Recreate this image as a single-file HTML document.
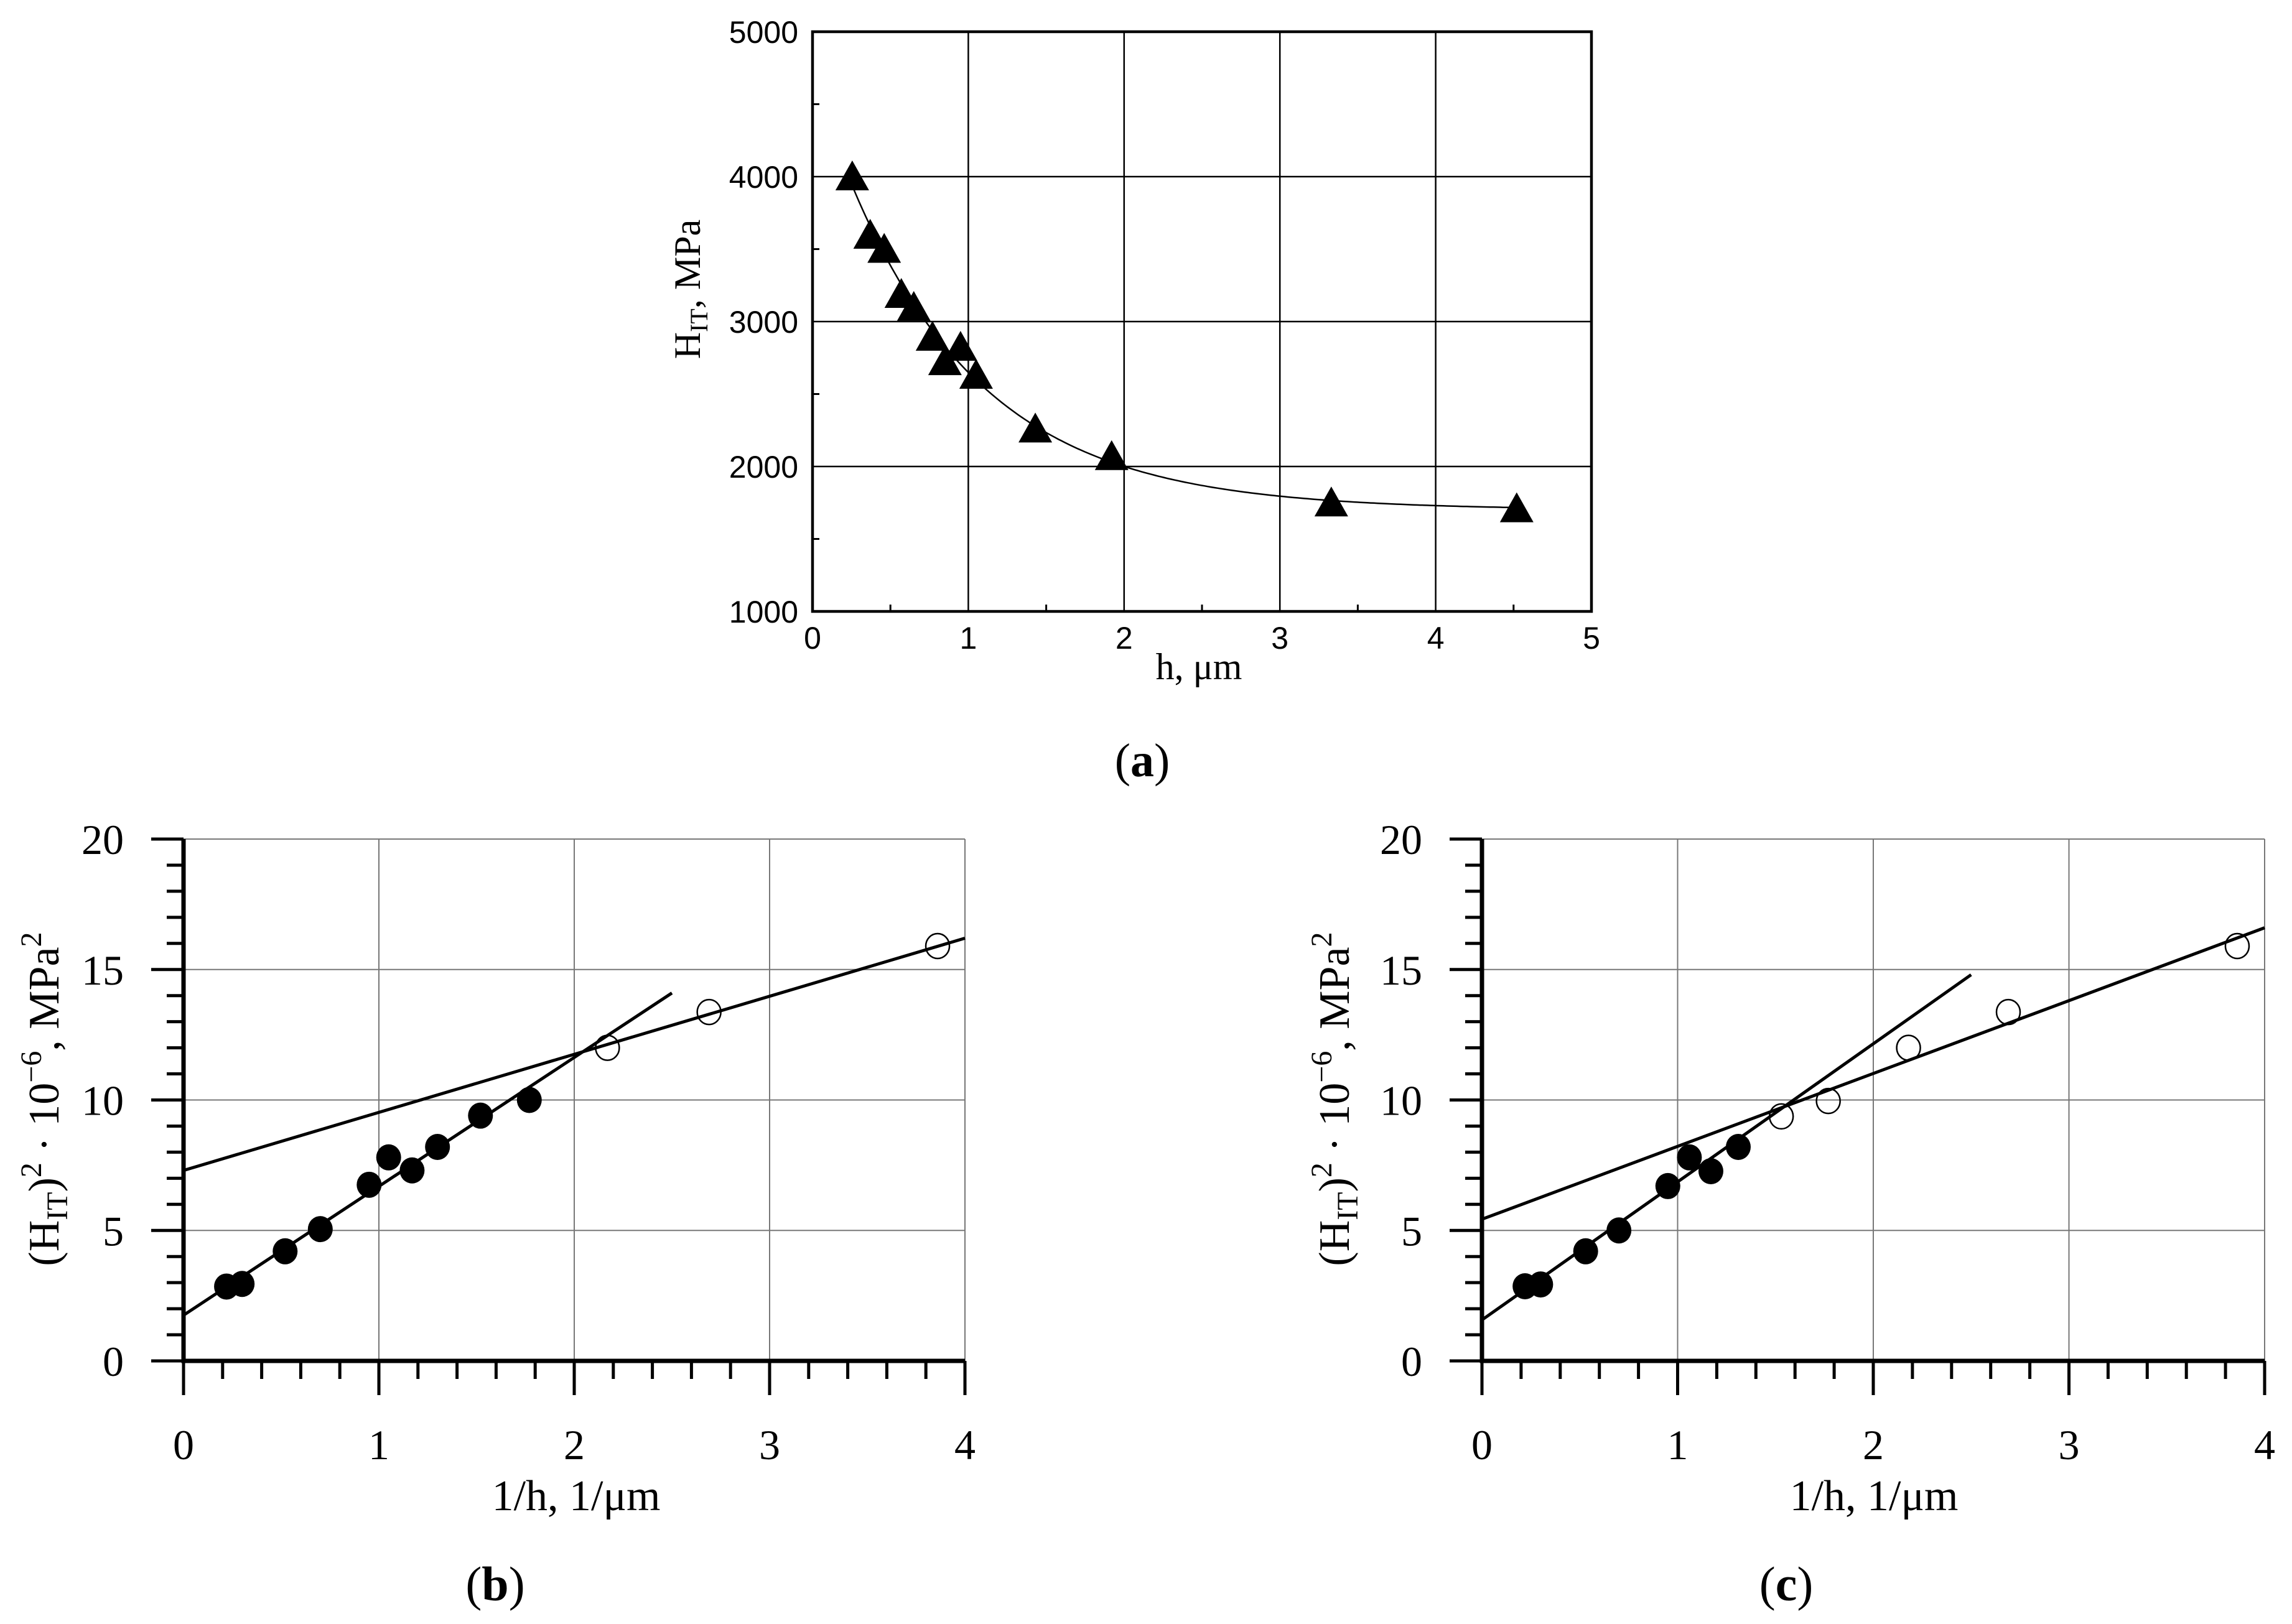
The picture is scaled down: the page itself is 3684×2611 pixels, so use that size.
<!DOCTYPE html>
<html><head><meta charset="utf-8"><style>
html,body{margin:0;padding:0;background:#fff;}
svg{display:block;}
text{fill:#000;}
.sans{font-family:"Liberation Sans",sans-serif;}
.serif{font-family:"Liberation Serif",serif;}
</style></head><body>
<svg id="fig" width="3684" height="2611" viewBox="0 0 3684 2611" xmlns="http://www.w3.org/2000/svg">
<g id="chartA"></g>
<g id="chartB"></g>
<g id="chartC"></g>
<text x="1927" y="1092" font-size="60" text-anchor="middle" style="font-family:'Liberation Serif',serif">h, μm</text>
<text class="serif" transform="translate(1125,465) rotate(-90)" font-size="60" text-anchor="middle">H<tspan font-size="40" dy="12">IT</tspan><tspan dy="-12">, MPa</tspan></text>
<text class="serif" x="1836" y="1248" font-size="76" text-anchor="middle">(<tspan font-weight="bold">a</tspan>)</text>
<text class="serif" x="926" y="2428" font-size="70" text-anchor="middle">1/h, 1/μm</text>
<text class="serif" transform="translate(94,1767) rotate(-90)" font-size="70" text-anchor="middle">(H<tspan font-size="48" dy="14">IT</tspan><tspan dy="-14">)</tspan><tspan font-size="48" dy="-28">2</tspan><tspan dy="28"> · 10</tspan><tspan font-size="48" dy="-28">−6</tspan><tspan dy="28">, MPa</tspan><tspan font-size="48" dy="-28">2</tspan></text>
<text class="serif" x="796" y="2573" font-size="78" text-anchor="middle">(<tspan font-weight="bold">b</tspan>)</text>
<text class="serif" x="3012" y="2428" font-size="70" text-anchor="middle">1/h, 1/μm</text>
<text class="serif" transform="translate(2168,1767) rotate(-90)" font-size="70" text-anchor="middle">(H<tspan font-size="48" dy="14">IT</tspan><tspan dy="-14">)</tspan><tspan font-size="48" dy="-28">2</tspan><tspan dy="28"> · 10</tspan><tspan font-size="48" dy="-28">−6</tspan><tspan dy="28">, MPa</tspan><tspan font-size="48" dy="-28">2</tspan></text>
<text class="serif" x="2871" y="2573" font-size="78" text-anchor="middle">(<tspan font-weight="bold">c</tspan>)</text>
</svg>
<script>
// ---- Chart A data ----
const aH = [0.255, 0.37, 0.46, 0.57, 0.65, 0.77, 0.85, 0.95, 1.05, 1.43, 1.92, 3.33, 4.52];
const aHIT = [4000, 3597, 3500, 3189, 3099, 2893, 2725, 2824, 2631, 2260, 2070, 1750, 1710];
const aXTicks = [0, 1, 2, 3, 4, 5];
const aYTicks = [1000, 2000, 3000, 4000, 5000];
const aFit = [1700, 3000, 0.869]; // y = c + A*exp(-h/t)
// ---- Chart B data ----
const bFilledX = [0.22, 0.30, 0.52, 0.70, 0.95, 1.05, 1.17, 1.30, 1.52, 1.77];
const bFilledY = [2.85, 2.95, 4.2, 5.05, 6.75, 7.8, 7.3, 8.2, 9.4, 10.0];
const bOpenX = [2.17, 2.69, 3.86];
const bOpenY = [12.0, 13.37, 15.9];
const bLine1 = [0, 1.75, 2.5, 14.1];
const bLine2 = [0, 7.3, 4, 16.2];
// ---- Chart C data ----
const cFilledX = [0.22, 0.30, 0.53, 0.70, 0.95, 1.06, 1.17, 1.31];
const cFilledY = [2.86, 2.93, 4.2, 5.0, 6.7, 7.8, 7.27, 8.2];
const cOpenX = [1.53, 1.77, 2.18, 2.69, 3.86];
const cOpenY = [9.37, 9.96, 12.0, 13.37, 15.9];
const cLine1 = [0, 1.57, 2.5, 14.8];
const cLine2 = [0, 5.43, 4, 16.6];
const xyTicksX = [0, 1, 2, 3, 4];
const xyTicksY = [0, 5, 10, 15, 20];

const NS = 'http://www.w3.org/2000/svg';
function mk(tag, attrs, parent) {
  const e = document.createElementNS(NS, tag);
  for (const k in attrs) e.setAttribute(k, attrs[k]);
  parent.appendChild(e);
  return e;
}

// ===== Chart A =====
(function () {
  const g = document.getElementById('chartA');
  const L = 1306, R = 2558, T = 51, B = 983;
  const sx = v => L + (v - 0) / 5 * (R - L);
  const sy = v => B - (v - 1000) / 4000 * (B - T);
  aXTicks.forEach(v => {
    if (v > 0 && v < 5) {
      const l = mk('line', {x1: sx(v), x2: sx(v), y1: T, y2: B, stroke: '#000', 'stroke-width': 2.5}, g);
      
      
    }
    const t = mk('text', {x: sx(v), y: 1043, 'font-size': 50, 'text-anchor': 'middle', class: 'sans'}, g);
    t.textContent = v;
    
    
  });
  for (let v = 0.5; v < 5; v += 1) {
    const m = mk('line', {x1: sx(v), x2: sx(v), y1: B, y2: B - 11, stroke: '#000', 'stroke-width': 3}, g);
    
    
  }
  aYTicks.forEach(v => {
    if (v > 1000 && v < 5000) {
      const l = mk('line', {x1: L, x2: R, y1: sy(v), y2: sy(v), stroke: '#000', 'stroke-width': 2.5}, g);
      
      
    }
    const t = mk('text', {x: 1283, y: sy(v) + 18, 'font-size': 50, 'text-anchor': 'end', class: 'sans'}, g);
    t.textContent = v;
    
    
  });
  for (let v = 1500; v < 5000; v += 1000) {
    const m = mk('line', {x1: L, x2: L + 11, y1: sy(v), y2: sy(v), stroke: '#000', 'stroke-width': 3}, g);
    
    
  }
  const frame = mk('rect', {x: L, y: T, width: R - L, height: B - T, fill: 'none', stroke: '#000', 'stroke-width': 4.5}, g);
  
  
  let d = '';
  for (let i = 0; i <= 200; i++) {
    const h = aH[0] + (aH[aH.length - 1] - aH[0]) * i / 200;
    const y = aFit[0] + aFit[1] * Math.exp(-h / aFit[2]);
    d += (i ? 'L' : 'M') + sx(h).toFixed(1) + ',' + sy(y).toFixed(1);
  }
  const c = mk('path', {d: d, fill: 'none', stroke: '#000', 'stroke-width': 2.5}, g);
  
  
  aH.forEach((h, i) => {
    const x = sx(h), y = sy(aHIT[i]);
    const p = mk('polygon', {points: `${x},${y - 26} ${x - 27},${y + 22} ${x + 27},${y + 22}`, fill: '#000'}, g);
    
    
  });
})();

// ===== Charts B and C =====
function drawXY(gid, L, R, filledX, filledY, openX, openY, line1, line2, suffix) {
  const g = document.getElementById(gid);
  const T = 1349, B = 2188;
  const sx = v => L + v / 4 * (R - L);
  const sy = v => B - v / 20 * (B - T);
  xyTicksX.forEach(v => {
    if (v > 0) {
      const l = mk('line', {x1: sx(v), x2: sx(v), y1: T, y2: B, stroke: '#777', 'stroke-width': 2}, g);
      
      
    }
    const t = mk('text', {x: sx(v), y: 2346, 'font-size': 68, 'text-anchor': 'middle', class: 'serif'}, g);
    t.textContent = v;
    
    
  });
  xyTicksY.forEach(v => {
    if (v > 0) {
      const l = mk('line', {x1: L, x2: R, y1: sy(v), y2: sy(v), stroke: '#777', 'stroke-width': 2}, g);
      
      
    }
    const t = mk('text', {x: L - 96, y: sy(v) + 24, 'font-size': 68, 'text-anchor': 'end', class: 'serif'}, g);
    t.textContent = v;
    
    
  });
  for (let i = 0; i <= 20; i++) {
    const major = i % 5 === 0;
    const m = mk('line', {x1: L - (major ? 52 : 27), x2: L, y1: sy(i), y2: sy(i), stroke: '#000', 'stroke-width': 5}, g);
    
    
  }
  for (let i = 0; i <= 20; i++) {
    const v = i * 0.2;
    const major = i % 5 === 0;
    const m = mk('line', {x1: sx(v), x2: sx(v), y1: B, y2: B + (major ? 55 : 29), stroke: '#000', 'stroke-width': 5}, g);
    
    
  }
  const ax = mk('path', {d: `M${L},${T} L${L},${B} L${R},${B}`, fill: 'none', stroke: '#000', 'stroke-width': 7}, g);
  
  
  [line1, line2].forEach((ln, k) => {
    const l = mk('line', {x1: sx(ln[0]), y1: sy(ln[1]), x2: sx(ln[2]), y2: sy(ln[3]), stroke: '#000', 'stroke-width': 5}, g);
    
    
  });
  filledX.forEach((x, i) => {
    const c = mk('ellipse', {cx: sx(x), cy: sy(filledY[i]), rx: 20, ry: 21, fill: '#000'}, g);
    
    
  });
  openX.forEach((x, i) => {
    const c = mk('ellipse', {cx: sx(x), cy: sy(openY[i]), rx: 19, ry: 20, fill: 'none', stroke: '#000', 'stroke-width': 2.5}, g);
    
    
  });
}
drawXY('chartB', 295, 1551, bFilledX, bFilledY, bOpenX, bOpenY, bLine1, bLine2, 'b');
drawXY('chartC', 2382, 3640, cFilledX, cFilledY, cOpenX, cOpenY, cLine1, cLine2, 'c');
</script>
</body></html>
